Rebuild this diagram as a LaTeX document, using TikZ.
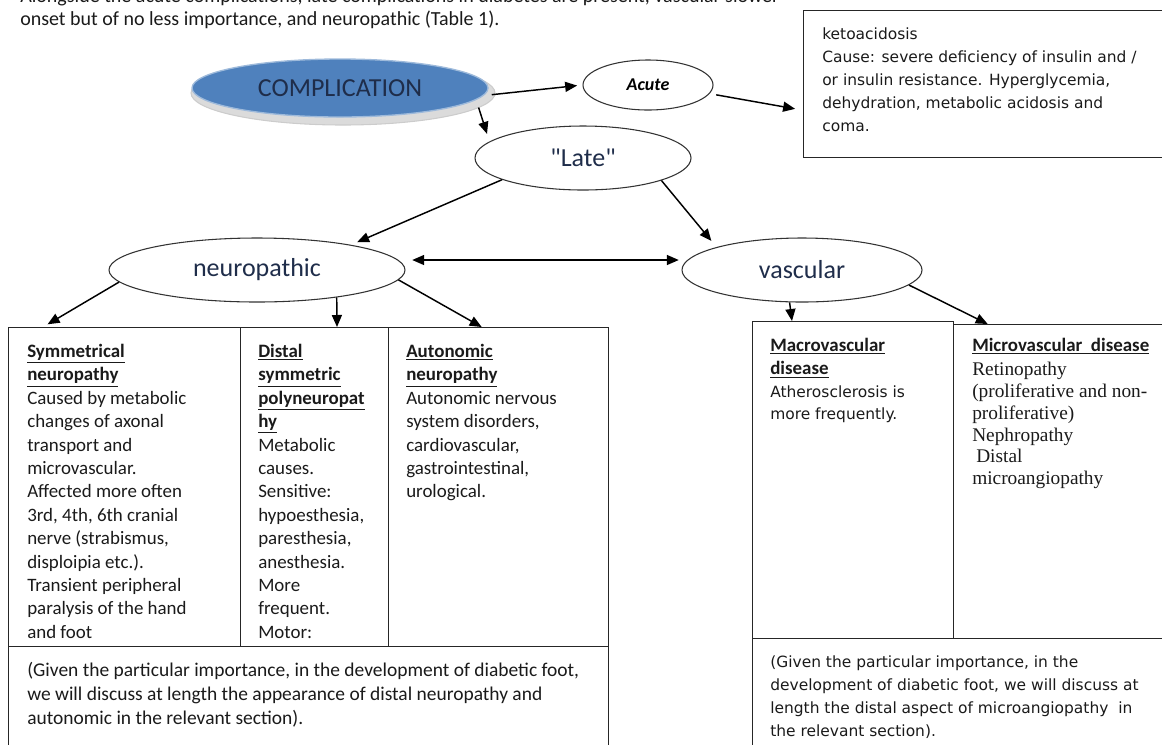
\documentclass[tikz,border=0pt]{standalone}
\usepackage{fontspec}
\setmainfont{Carlito}
\newfontfamily\verdfont{DejaVu Sans}
\newfontfamily\serffont{Liberation Serif}
\usetikzlibrary{shapes.geometric,arrows.meta,positioning}
\definecolor{compblue}{HTML}{4F81BD}
\definecolor{ovaltext}{HTML}{1F2D4A}
\definecolor{celltext}{HTML}{1A1A1A}
\begin{document}
\begin{tikzpicture}[x=0.75pt,y=-0.75pt,
  oval/.style={draw=black!80, ellipse, line width=0.8pt, inner sep=0pt, text=ovaltext},
  cell/.style={draw=black!85, rectangle, line width=0.8pt, anchor=north west, inner sep=0pt},
  txt/.style={anchor=north west, inner sep=0pt, align=left, text=celltext, font=\fontsize{14.2}{17.55}\selectfont},
  vtxt/.style={txt, font=\verdfont\fontsize{11.6}{17.25}\selectfont},
  arr/.style={draw, line width=1.1pt, -{Triangle[length=9pt,width=7.5pt]}}]
\useasboundingbox (0,0) rectangle (1162,744);
\clip (0,0) rectangle (1162,744);
% running text above the chart
\node[anchor=base west, inner sep=0pt, text=celltext, font=\fontsize{15}{18}\selectfont] (intro) at (20,2) {Alongside the acute complications, late complications in diabetes are present, vascular slower};
\node[anchor=base west, inner sep=0pt, text=celltext, font=\fontsize{15}{18}\selectfont] (introb) at (20,25) {onset but of no less importance, and neuropathic (Table 1).};
% ovals
\node[ellipse, fill=gray!28, draw=gray!40, line width=0.8pt, minimum width=228pt, minimum height=48pt] (compshade) at (343,93) {};
\node[ellipse, fill=compblue, draw=compblue!55!white, line width=1pt, minimum width=222pt, minimum height=43.5pt, inner sep=0pt, text=ovaltext] (comp) at (340,88) {\fontsize{19.5}{22}\selectfont COMPLICATION};
\node[oval, minimum width=97.5pt, minimum height=37.5pt, text=black] (acute) at (648,85) {\fontsize{13.5}{16}\selectfont\bfseries\itshape Acute};
\node[oval, minimum width=162pt, minimum height=48pt] (late) at (583,158) {\fontsize{19.5}{22}\selectfont\textquotedbl Late\textquotedbl};
\node[oval, minimum width=222pt, minimum height=48pt] (neuro) at (257,270) {\fontsize{19.5}{22}\selectfont neuropathic};
\node[oval, minimum width=180pt, minimum height=48pt] (vasc) at (802,270) {\fontsize{19.5}{22}\selectfont vascular};
% boxes
\node[cell, minimum width=279pt, minimum height=110.25pt] (keto) at (803,10) {};
\node[cell, minimum width=174pt, minimum height=239.25pt] (sym) at (8,327) {};
\node[cell, minimum width=111pt, minimum height=239.25pt] (dist) at (240,327) {};
\node[cell, minimum width=165pt, minimum height=239.25pt] (auto) at (388,327) {};
\node[cell, minimum width=450pt, minimum height=90pt] (botl) at (8,646) {};
\node[cell, minimum width=150.75pt, minimum height=237.75pt] (macro) at (752,321) {};
\node[cell, minimum width=166.5pt, minimum height=235.5pt] (micro) at (953,324) {};
\node[cell, minimum width=317.25pt, minimum height=90pt] (botr) at (752,638) {};
% box texts
\node[vtxt, below right=12.75pt and 14.25pt of keto.north west] (ketotxt) {ketoacidosis\\
  Cause: severe deficiency of insulin and /\\
  or insulin resistance. Hyperglycemia,\\
  dehydration, metabolic acidosis and\\
  coma.};
\node[txt, below right=12.75pt and 14.25pt of sym.north west] (symtxt) {\textbf{\underline{Symmetrical}}\\
  \textbf{\underline{neuropathy}}\\
  Caused by metabolic\\
  changes of axonal\\
  transport and\\
  microvascular.\\
  Affected more often\\
  3rd, 4th, 6th cranial\\
  nerve (strabismus,\\
  disploipia etc.).\\
  Transient peripheral\\
  paralysis of the hand\\
  and foot};
\node[txt, below right=12.75pt and 13.5pt of dist.north west] (disttxt) {\textbf{\underline{Distal}}\\
  \textbf{\underline{symmetric}}\\
  \textbf{\underline{polyneuropat}}\\
  \textbf{\underline{hy}}\\
  Metabolic\\
  causes.\\
  Sensitive:\\
  hypoesthesia,\\
  paresthesia,\\
  anesthesia.\\
  More\\
  frequent.\\
  Motor:};
\node[txt, below right=12.75pt and 13.5pt of auto.north west] (autotxt) {\textbf{\underline{Autonomic}}\\
  \textbf{\underline{neuropathy}}\\
  Autonomic nervous\\
  system disorders,\\
  cardiovascular,\\
  gastrointestinal,\\
  urological.};
\node[txt, font=\fontsize{14.6}{18}\selectfont, below right=12pt and 14.25pt of botl.north west] (botltxt) {(Given the particular importance, in the development of diabetic foot,\\
  we will discuss at length the appearance of distal neuropathy and\\
  autonomic in the relevant section).};
\node[txt, below right=12.75pt and 13.5pt of macro.north west] (macrohead) {\textbf{\underline{Macrovascular}}\\
  \textbf{\underline{disease}}};
\node[vtxt, font=\verdfont\fontsize{11.6}{16.5}\selectfont, below right=48pt and 13.5pt of macro.north west] (macrotxt) {Atherosclerosis is\\
  more frequently.};
\node[txt, below right=10.5pt and 14.25pt of micro.north west] (microhead) {\textbf{\underline{Microvascular\ \ disease}}};
\node[txt, font=\serffont\fontsize{14.5}{16.35}\selectfont, below right=28.5pt and 14.25pt of micro.north west] (microtxt) {Retinopathy\\
  (proliferative and non-\\
  proliferative)\\
  Nephropathy\\
  \hspace{3pt}Distal\\
  microangiopathy};
\node[vtxt, below right=12.75pt and 13.5pt of botr.north west] (botrtxt) {(Given the particular importance, in the\\
  development of diabetic foot, we will discuss at\\
  length the distal aspect of microangiopathy\ \ in\\
  the relevant section).};
% arrows
\path[arr, shorten <=6pt, shorten >=4pt] (comp.-3) -- (acute.west);
\path[arr, shorten <=5pt, shorten >=6pt] (acute.-8) -- (keto.188);
\path[arr, shorten <=6pt, shorten >=6pt] (comp.-5) -- (late.170);
\path[arr, shorten >=5pt] (late.195) -- (neuro.15);
\path[arr, shorten >=6pt] (late.-16) -- (vasc.165);
\path[draw, line width=1.1pt, {Triangle[length=9pt,width=7.5pt]}-{Triangle[length=9pt,width=7.5pt]}, shorten <=5pt, shorten >=2pt] ([yshift=7.5pt]neuro.east) -- ([yshift=7.5pt]vasc.west);
\path[arr, shorten >=4pt] (neuro.185) -- (sym.117);
\path[arr] (neuro.-19) -- (dist.82);
\path[arr] (neuro.-4) -- (auto.96);
\path[arr] (vasc.-111) -- (macro.111);
\path[arr] (vasc.-8) -- (micro.116);
\end{tikzpicture}
\end{document}
